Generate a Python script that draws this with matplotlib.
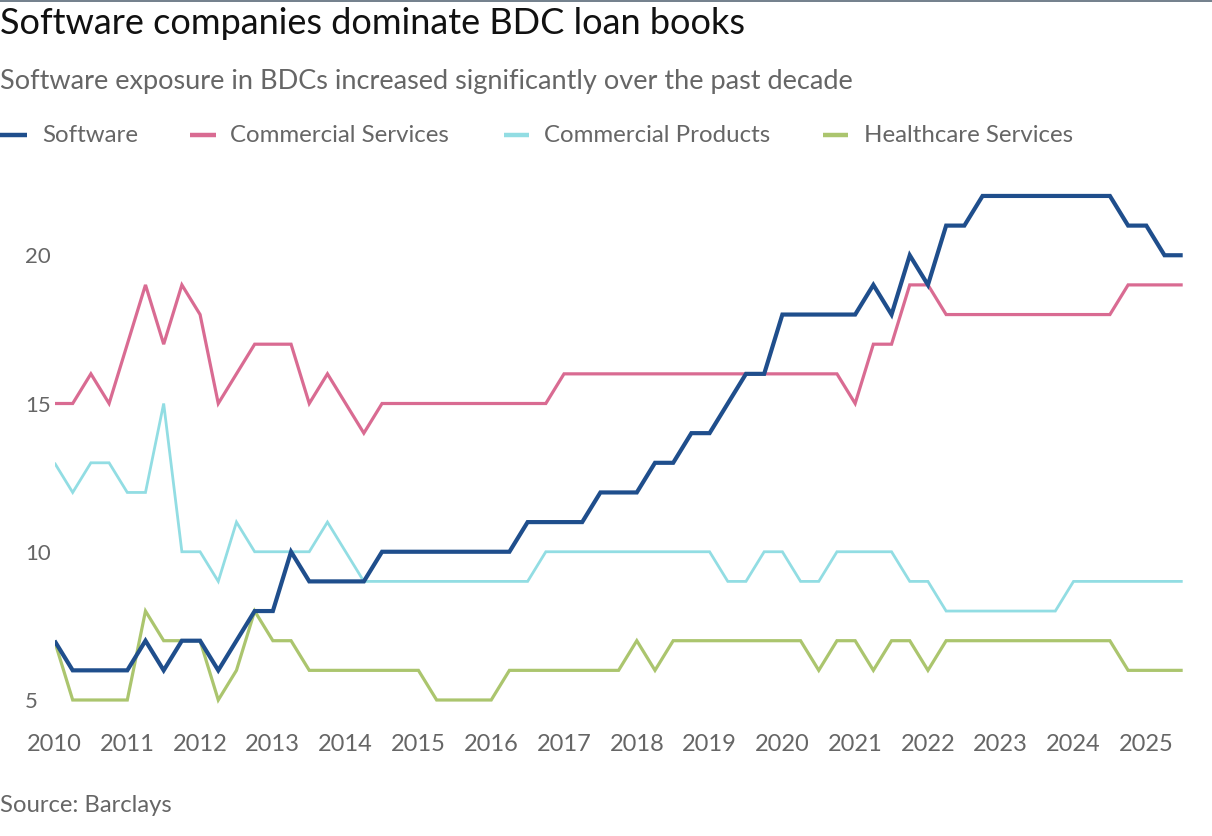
import numpy as np
import matplotlib
matplotlib.use("Agg")
import matplotlib.pyplot as plt
from matplotlib.lines import Line2D

plt.rcParams['font.family'] = ['Lato', 'DejaVu Sans']

# quarterly points, 2010 Q1 .. 2025 Q3
quarters = np.arange(2010, 2025.5 + 0.01, 0.25)

software = [7, 6, 6, 6, 6, 7, 6, 7, 7, 6, 7, 8, 8, 10, 9, 9, 9, 9, 10, 10,
            10, 10, 10, 10, 10, 10, 11, 11, 11, 11, 12, 12, 12, 13, 13, 14, 14, 15, 16, 16,
            18, 18, 18, 18, 18, 19, 18, 20, 19, 21, 21, 22, 22, 22, 22, 22, 22, 22, 22, 21,
            21, 20, 20]
commercial_services = [15, 15, 16, 15, 17, 19, 17, 19, 18, 15, 16, 17, 17, 17, 15, 16, 15, 14, 15, 15,
                       15, 15, 15, 15, 15, 15, 15, 15, 16, 16, 16, 16, 16, 16, 16, 16, 16, 16, 16, 16,
                       16, 16, 16, 16, 15, 17, 17, 19, 19, 18, 18, 18, 18, 18, 18, 18, 18, 18, 18, 19,
                       19, 19, 19]
commercial_products = [13, 12, 13, 13, 12, 12, 15, 10, 10, 9, 11, 10, 10, 10, 10, 11, 10, 9, 9, 9,
                       9, 9, 9, 9, 9, 9, 9, 10, 10, 10, 10, 10, 10, 10, 10, 10, 10, 9, 9, 10,
                       10, 9, 9, 10, 10, 10, 10, 9, 9, 8, 8, 8, 8, 8, 8, 8, 9, 9, 9, 9,
                       9, 9, 9]
healthcare_services = [7, 5, 5, 5, 5, 8, 7, 7, 7, 5, 6, 8, 7, 7, 6, 6, 6, 6, 6, 6,
                       6, 5, 5, 5, 5, 6, 6, 6, 6, 6, 6, 6, 7, 6, 7, 7, 7, 7, 7, 7,
                       7, 7, 6, 7, 7, 6, 7, 7, 6, 7, 7, 7, 7, 7, 7, 7, 7, 7, 7, 6,
                       6, 6, 6]

names = ['Software', 'Commercial Services', 'Commercial Products', 'Healthcare Services']
colors = ['#1f4e8c', '#d96b92', '#92dde3', '#abc56e']
widths = [3.0, 2.3, 2.0, 2.3]
series = [software, commercial_services, commercial_products, healthcare_services]

years = list(range(2010, 2026))
yticks = [5, 10, 15, 20]

W, H = 1212, 836
fig = plt.figure(figsize=(W / 100, H / 100), dpi=100)

# axes box in pixels -> figure fraction
x0, x1 = 54.5, 1182.7
y_lo, y_hi = 4.8, 22.2
py5, pyunit = 700, 29.65
bot_px = py5 + (5 - y_lo) * pyunit
top_px = py5 - (y_hi - 5) * pyunit
ax = fig.add_axes([x0 / W, 1 - bot_px / H, (x1 - x0) / W, (bot_px - top_px) / H])

# draw back to front like the original (software on top)
for i in [3, 2, 1, 0]:
    ax.plot(quarters, series[i], color=colors[i], lw=widths[i],
            solid_joinstyle='miter', solid_capstyle='butt', zorder=3 + (3 - i))

ax.set_xlim(2010, 2025.5)
ax.set_ylim(y_lo, y_hi)
for s in ax.spines.values():
    s.set_visible(False)
ax.set_xticks(years)
ax.set_xticklabels([str(y) for y in years])
ax.set_yticks(yticks)
ax.set_yticklabels([str(v) for v in yticks], ha='left')
ax.tick_params(axis='both', length=0, colors='#666666')
ax.tick_params(axis='x', pad=20, labelsize=17)
ax.tick_params(axis='y', pad=(x0 - 25) * 0.72, labelsize=16)

# header
fig.text(0.0, 1 - 24 / H, 'Software companies dominate BDC loan books',
         fontsize=26, color='#111111', va='center', ha='left')
fig.text(0.0, 1 - 81 / H, 'Software exposure in BDCs increased significantly over the past decade',
         fontsize=19.5, color='#666666', va='center', ha='left')

# legend
leg_y = 1 - 135 / H
seg = [(0, 27, 42), (190, 216, 230), (504, 529, 544), (823, 848, 864)]
for (sx0, sx1, tx), name, c in zip(seg, names, colors):
    fig.add_artist(Line2D([sx0 / W, sx1 / W], [leg_y, leg_y], color=c, lw=3.2,
                          solid_capstyle='butt', transform=fig.transFigure))
    fig.text(tx / W, leg_y, name, fontsize=17.3, color='#666666', va='center', ha='left')

fig.text(0.0, 1 - 806 / H, 'Source: Barclays', fontsize=17.2, color='#666666',
         va='center', ha='left')

# thin top rule from the screenshot
fig.add_artist(Line2D([0, 1], [1 - 0.5 / H, 1 - 0.5 / H], color='#5a6a78', lw=1.2,
                      transform=fig.transFigure))

fig.savefig('out.png', dpi=100)
